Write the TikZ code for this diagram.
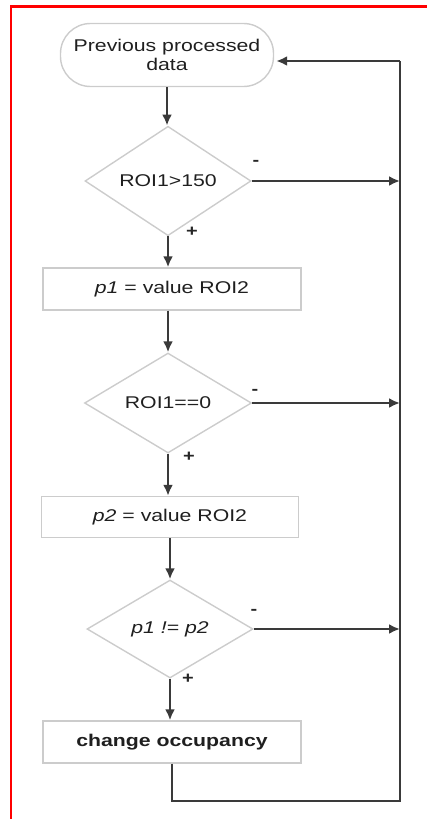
\documentclass[tikz,border=0pt]{standalone}
\usepackage{fontspec}
\usetikzlibrary{arrows.meta,shapes.geometric}
\newfontfamily\figfont[FakeStretch=1.25]{Liberation Sans}
\definecolor{linec}{HTML}{3A3A3A}
\definecolor{shapec}{HTML}{CCCCCC}
\tikzset{
  shapebase/.style={draw=shapec, line width=1.4pt, inner sep=0pt,
    font=\figfont\fontsize{17pt}{19pt}\selectfont, text=black!88},
  termbox/.style={shapebase, rectangle, rounded corners=30pt, minimum width=213pt, minimum height=63pt, align=center},
  procbox/.style={shapebase, rectangle, minimum width=258pt, minimum height=42pt},
  decbox/.style={shapebase, diamond, minimum width=166pt, minimum height=98pt},
  conn/.style={draw=linec, line width=2.2pt, -{Latex[length=11pt,width=10pt]}},
  plainconn/.style={draw=linec, line width=2.2pt},
  signlab/.style={font=\figfont\fontsize{16pt}{16pt}\selectfont\bfseries, text=black!85, inner sep=0pt},
}
\begin{document}
\begin{tikzpicture}[x=1pt,y=-1pt]
\useasboundingbox (0,0) rectangle (427,819);
\draw[red, line width=2.4pt] (11,819) -- (11,6.5) -- (427,6.5);

\node[termbox] (term) at (167,55) {Previous processed\\data};
\node[decbox] (d1) at (168,181) {ROI1>150};
\node[procbox] (b1) at (172,289) {\itshape p1\upshape{} = value ROI2};
\node[decbox, minimum width=167pt, minimum height=100pt] (d2) at (168,403) {ROI1==0};
\node[procbox, minimum width=257pt, minimum height=41pt] (b2) at (170,517) {\itshape p2\upshape{} = value ROI2};
\node[decbox] (d3) at (170,629) {\itshape p1 != p2};
\node[procbox] (b3) at (172,742) {\bfseries change occupancy};

\coordinate (topR) at (400,61);
\coordinate (botR) at (400,801);

\node[signlab] (m1) at (256,163) {-};
\node[signlab] (p1s) at (192,232) {+};
\node[signlab] (m2) at (255,392) {-};
\node[signlab] (p2s) at (189,457) {+};
\node[signlab] (m3) at (254,612) {-};
\node[signlab] (p3s) at (188,679) {+};

\draw[conn] (term.south) -- (term.south |- d1.north);
\draw[conn] (d1.south) -- (d1.south |- b1.north);
\draw[conn] (b1.south -| d2.north) -- (d2.north);
\draw[conn] (d2.south) -- (d2.south |- b2.north);
\draw[conn] (b2.south -| d3.north) -- (d3.north);
\draw[conn] (d3.south) -- (d3.south |- b3.north);

\draw[conn] (d1.east) -- (d1.east -| topR);
\draw[conn] (d2.east) -- (d2.east -| topR);
\draw[conn] (d3.east) -- (d3.east -| topR);

\draw[plainconn] (b3.south) |- (botR) -- (topR);
\draw[conn] (topR) -- ([xshift=2pt]term.east |- topR);
\end{tikzpicture}
\end{document}
